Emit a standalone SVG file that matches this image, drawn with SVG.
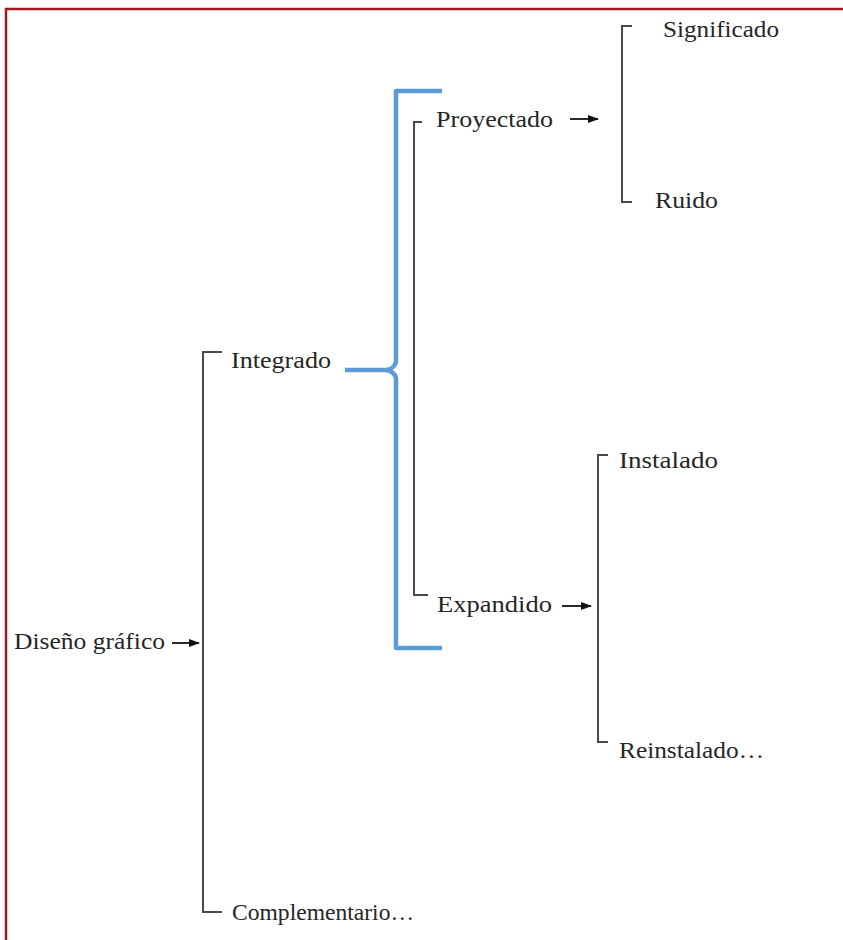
<svg xmlns="http://www.w3.org/2000/svg" width="843" height="940" viewBox="0 0 843 940">
<defs>
<style>
text{font-family:"Liberation Serif","Times New Roman",serif;font-size:23px;fill:#262626}
.br{fill:none;stroke:#4a4a4a;stroke-width:2}
.ar{stroke:#111;stroke-width:1.8;marker-end:url(#ah)}
.blue{fill:none;stroke:#5b9bd7;stroke-width:4.5;stroke-linejoin:round}
</style>
<marker id="ah" markerWidth="11" markerHeight="8" refX="10" refY="4" orient="auto" markerUnits="userSpaceOnUse">
<path d="M0,0 L11,4 L0,8 Z" fill="#111"/>
</marker>
</defs>
<rect width="843" height="940" fill="#fff"/>
<path d="M6,940 L6,9 L843,9" fill="none" stroke="#9b1c1c" stroke-width="2.5"/>
<g id="connectors">
<path class="br" d="M222,352 L203,352 L203,912 L222,912"/>
<path class="blue" d="M442,91 L396,91 L396,362 Q394,369 386,370 L345,370 M386,370 Q394,371 396,378 L396,648 L442,648"/>
<path class="br" d="M422,122 L414,122 L414,595 L428,595"/>
<path class="br" d="M632,26 L622,26 L622,202 L632,202"/>
<path class="br" d="M608,455 L598,455 L598,742 L608,742"/>
<line class="ar" x1="172" y1="643" x2="199" y2="643"/>
<line class="ar" x1="570" y1="119" x2="598" y2="119"/>
<line class="ar" x1="562" y1="606" x2="591" y2="606"/>
</g>
<g id="diseno"><text x="14" y="649" textLength="151" lengthAdjust="spacingAndGlyphs">Diseño gráfico</text></g>
<g id="integrado"><text x="231" y="368" textLength="100" lengthAdjust="spacingAndGlyphs">Integrado</text></g>
<g id="complementario"><text x="232" y="920" textLength="182" lengthAdjust="spacingAndGlyphs">Complementario…</text></g>
<g id="proyectado"><text x="436" y="127" textLength="117" lengthAdjust="spacingAndGlyphs">Proyectado</text></g>
<g id="expandido"><text x="437" y="612" textLength="115" lengthAdjust="spacingAndGlyphs">Expandido</text></g>
<g id="significado"><text x="663" y="37" textLength="116" lengthAdjust="spacingAndGlyphs">Significado</text></g>
<g id="ruido"><text x="655" y="208" textLength="63" lengthAdjust="spacingAndGlyphs">Ruido</text></g>
<g id="instalado"><text x="619" y="468" textLength="99" lengthAdjust="spacingAndGlyphs">Instalado</text></g>
<g id="reinstalado"><text x="619" y="758" textLength="145" lengthAdjust="spacingAndGlyphs">Reinstalado…</text></g>
</svg>
